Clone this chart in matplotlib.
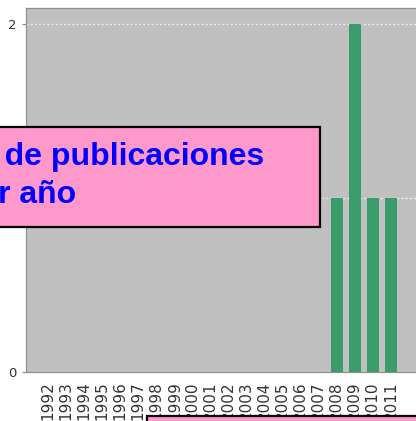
#!/usr/bin/env python3

import matplotlib.pyplot as plt
import matplotlib.patches as patches
import numpy as np

# ---- Data ----
years = [str(y) for y in range(1992, 2012)]
counts = [0, 0, 0, 0, 0, 0, 0, 0, 0, 0, 0, 0, 0, 0, 0, 0, 1, 2, 1, 1]
y_ticks = [0, 2]
grid_levels = [1, 2]
title_lines = ["Número de publicaciones", "por año"]

# ---- Plot ----
fig = plt.figure(figsize=(4.16, 4.21), dpi=100)
fig.patch.set_facecolor('white')
ax = fig.add_axes([26 / 416, 1 - 372 / 421, 1 - 26 / 416, (372 - 8) / 421])
ax.set_facecolor('#c0c0c0')

x = np.arange(len(years))
ax.bar(x, counts, width=0.66, color='#3a9b6b', zorder=3)

for lvl in grid_levels:
    ax.axhline(lvl, color='#ececec', linestyle=(0, (1.5, 1.5)), linewidth=1, zorder=2)

ax.set_xlim(-1.22, 20.39)
ax.set_ylim(0, 2.092)

ax.set_xticks(x)
ax.set_xticklabels(years, rotation=90, va='top', ha='center',
                   fontsize=11, color='#333333', family='DejaVu Sans')
ax.tick_params(axis='x', length=0, pad=6.5)
ax.set_yticks(y_ticks)
ax.set_yticklabels([str(v) for v in y_ticks], fontsize=9.5, color='#333333')
ax.tick_params(axis='y', length=3, width=0.8, color='#888888', pad=4)

for side in ['left', 'bottom', 'top']:
    ax.spines[side].set_color('#909090')
    ax.spines[side].set_linewidth(0.9)
ax.spines['right'].set_visible(False)

# ---- Callout boxes ----
box1 = patches.Rectangle((-0.3, 1 - 227 / 421), 0.3 + 320 / 416, 100 / 421,
                         transform=fig.transFigure, facecolor='#ff99cc',
                         edgecolor='black', linewidth=1.6, zorder=10,
                         clip_on=False)
fig.patches.append(box1)
fig.text(264 / 416, 1 - 165 / 421, title_lines[0], ha='right', va='baseline',
         fontsize=23, fontweight='bold', color='#0000ff',
         family='Liberation Sans', zorder=11)
fig.text(76 / 416, 1 - 203 / 421, title_lines[1], ha='right', va='baseline',
         fontsize=23, fontweight='bold', color='#0000ff',
         family='Liberation Sans', zorder=11)

box2 = patches.Rectangle((147 / 416, -0.2), 0.8, 0.2 + 5 / 421,
                         transform=fig.transFigure, facecolor='#ff99cc',
                         edgecolor='black', linewidth=1.6, zorder=10,
                         clip_on=False)
fig.patches.append(box2)

plt.savefig("out.png", dpi=100)
